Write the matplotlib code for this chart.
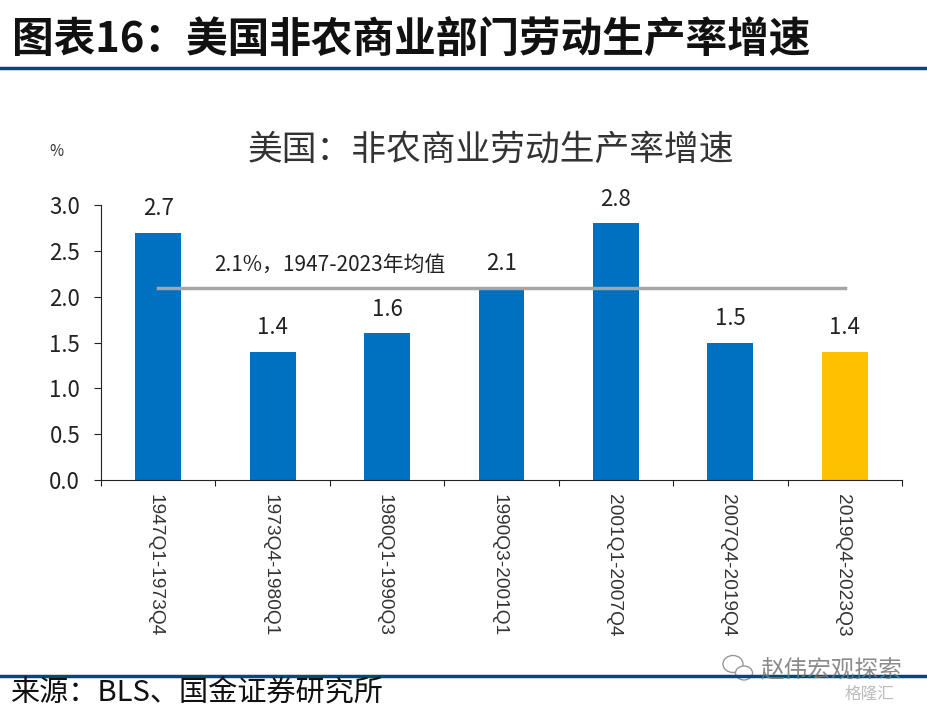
import matplotlib
matplotlib.use("Agg")
from matplotlib import pyplot as plt
from matplotlib.lines import Line2D
from matplotlib.patches import Ellipse

plt.rcParams['font.family'] = ['Noto Sans CJK SC', 'DejaVu Sans']

periods = ["1947Q1-1973Q4", "1973Q4-1980Q1", "1980Q1-1990Q3", "1990Q3-2001Q1",
           "2001Q1-2007Q4", "2007Q4-2019Q4", "2019Q4-2023Q3"]
growth = [2.7, 1.4, 1.6, 2.1, 2.8, 1.5, 1.4]
average = [2.1] * 7
yticks = [0.0, 0.5, 1.0, 1.5, 2.0, 2.5, 3.0]
colors = ["#0070c0"] * 6 + ["#ffc000"]

W, H = 927, 711
fig = plt.figure(figsize=(W/100, H/100), dpi=100)
ax = fig.add_axes([101/W, 1 - 480/H, (902-101)/W, (480-205)/H])

xs = range(len(periods))
ax.bar(xs, growth, width=0.4, color=colors)
ax.plot(xs, average, color="#a5a5a5", linewidth=2.5)
for x, v in zip(xs, growth):
    ax.annotate(f"{v:.1f}", (x, v), xytext=(0, 9), textcoords="offset points",
                ha="center", va="bottom", fontsize=16, color="#222222")
ax.text(1.5, 2.35, "2.1%，1947-2023年均值", ha="center", va="center", fontsize=15, color="#222222")

ax.set_xlim(-0.5, 6.5)
ax.set_ylim(0, 3)
ax.set_yticks(yticks)
ax.set_yticklabels([f"{t:.1f}" for t in yticks], fontsize=16, color="#222222")
ax.set_xticks([i - 0.5 for i in range(8)])
ax.set_xticklabels([])
for x, p in zip(xs, periods):
    ax.annotate(p, (x, 0), xytext=(-2, -10), textcoords="offset points", rotation=-90,
                ha="center", va="top", fontsize=13.8, color="#333333", family="Liberation Sans")
ax.tick_params(axis="x", direction="out", length=4.5, color="#222222")
ax.tick_params(axis="y", direction="out", length=5, pad=10, color="#222222")
for s in ["top", "right"]:
    ax.spines[s].set_visible(False)
for s in ["left", "bottom"]:
    ax.spines[s].set_color("#222222")

fig.text(491/W, 1 - 150/H, "美国：非农商业劳动生产率增速", ha="center", va="center", fontsize=25, color="#333333")
fig.text(56/W, 1 - 152/H, "%", ha="center", va="center", fontsize=11, color="#333333")
fig.text(12/W, 1 - 41/H, "图表16：美国非农商业部门劳动生产率增速", ha="left", va="center",
         fontsize=30, fontweight="bold", color="#111111")
fig.text(10/W, 1 - 693/H, "来源：BLS、国金证券研究所", ha="left", va="center", fontsize=21, color="#111111")

fig.add_artist(Line2D([0, 1], [1 - 68/H] * 2, color="#004a73", linewidth=2.5))
fig.add_artist(Line2D([0, 1], [1 - 675.5/H] * 2, color="#004a73", linewidth=2.5))

# watermark sits on top of the lower rule
fig.text(760/W, 1 - 670/H, "赵伟宏观探索", ha="left", va="center", fontsize=17, color="#777777", alpha=0.85)
fig.text(845/W, 1 - 694/H, "格隆汇", ha="left", va="center", fontsize=12, color="#aaaaaa", alpha=0.8)
for cx, cy, ew, eh in [(733, 664, 20, 17), (744, 673, 17, 14)]:
    fig.add_artist(Ellipse((cx/W, 1 - cy/H), ew/W, eh/H, transform=fig.transFigure,
                           facecolor="white", edgecolor="#999999", linewidth=1))

fig.savefig("out.png", dpi=100)
